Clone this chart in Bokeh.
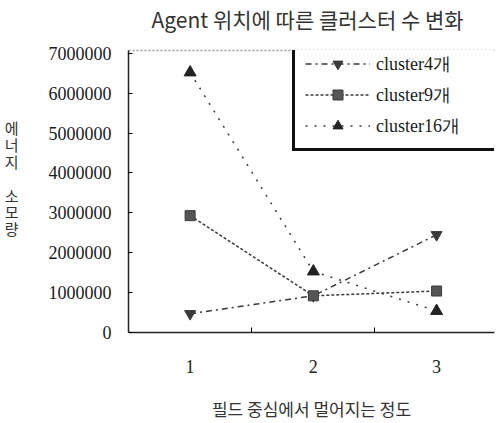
from bokeh.plotting import figure
from bokeh.models import FixedTicker, LinearAxis, Range1d, Legend, LegendItem, NumeralTickFormatter
from bokeh.embed import file_html
from bokeh.resources import INLINE

title = "Agent 위치에 따른 클러스터 수 변화"
x_label = "필드 중심에서 멀어지는 정도"
y_label_chars = ["에", "너", "지", "", "소", "모", "량"]
x_vals = [1, 2, 3]
x_tick_labels = ["1", "2", "3"]
y_ticks = [0, 1000000, 2000000, 3000000, 4000000, 5000000, 6000000, 7000000]
cluster4 = [470000, 920000, 2450000]
cluster9 = [2930000, 920000, 1040000]
cluster16 = [6520000, 1530000, 540000]
names = ["cluster4개", "cluster9개", "cluster16개"]

CJK = "Noto Sans CJK KR"
SERIF = "Liberation Serif"
DARK = "#3a3a3a"

W, H = 496, 423
X0, X1 = 0.5, 3.47
Y0, Y1 = 0, 7070000
FRAME_TOP, FRAME_BOTTOM = 50, 339
TITLE_X = 1.953125  # horizontal anchor of the title, in x-axis units

p = figure(width=W, height=H, output_backend="svg", toolbar_location=None,
           x_range=Range1d(X0, X1), y_range=Range1d(Y0, Y1),
           min_border_left=128, min_border_right=2, min_border_top=FRAME_TOP,
           min_border_bottom=H - FRAME_BOTTOM)
p.outline_line_color = None
p.grid.grid_line_color = None
p.background_fill_color = "white"
p.border_fill_color = "white"

p.xaxis.ticker = FixedTicker(ticks=x_vals, minor_ticks=[1.5, 2.5])
p.xaxis.major_label_overrides = {v: s for v, s in zip(x_vals, x_tick_labels)}
p.xaxis.major_tick_in = 0
p.xaxis.major_tick_out = 0
p.xaxis.minor_tick_in = 5
p.xaxis.minor_tick_out = 0
p.xaxis.major_label_standoff = 27
p.xaxis.major_label_text_font = SERIF
p.xaxis.major_label_text_font_size = "18px"
p.xaxis.major_label_text_color = "#222222"
p.xaxis.axis_label = x_label
p.xaxis.axis_label_text_font = CJK
p.xaxis.axis_label_text_font_size = "17px"
p.xaxis.axis_label_text_font_style = "normal"
p.xaxis.axis_label_text_color = "#333333"
p.xaxis.axis_label_standoff = 20
p.xaxis.axis_line_width = 1.5
p.xaxis.axis_line_color = "#222222"

yax = p.yaxis[0]
yax.ticker = FixedTicker(ticks=y_ticks, minor_ticks=[])
yax.formatter = NumeralTickFormatter(format="0")
yax.major_tick_in = 4
yax.major_tick_out = 0
yax.minor_tick_line_color = None
yax.major_label_standoff = 17
yax.major_label_text_font = SERIF
yax.major_label_text_font_size = "18px"
yax.major_label_text_color = "#1a1a1a"
yax.axis_line_width = 1.5
yax.axis_line_color = "#222222"

# stacked (upright) y-axis title, drawn as the labels of an outer, line-less axis
px_per_val = (FRAME_BOTTOM - FRAME_TOP) / (Y1 - Y0)
step = 17.3
char_ticks, char_map = [], {}
for i, ch in enumerate(y_label_chars):
    if not ch:
        continue
    ypx = 129 + i * step
    v = int(round((FRAME_BOTTOM - ypx) / px_per_val))
    char_ticks.append(v)
    char_map[v] = ch
lab_axis = LinearAxis(ticker=FixedTicker(ticks=char_ticks, minor_ticks=[]),
                      major_label_overrides=char_map,
                      axis_line_color=None, major_tick_line_color=None, minor_tick_line_color=None,
                      major_label_standoff=21, major_label_text_font=CJK,
                      major_label_text_font_size="15px", major_label_text_color="#333333")
p.add_layout(lab_axis, "left")

# dashed top border that also carries the chart title as its single label
top = LinearAxis(ticker=FixedTicker(ticks=[TITLE_X], minor_ticks=[]),
                 major_label_overrides={TITLE_X: title},
                 major_tick_line_color=None, minor_tick_line_color=None,
                 major_label_standoff=11, major_label_text_font=CJK,
                 major_label_text_font_size="21px", major_label_text_color="#333333",
                 axis_line_color="#999999", axis_line_dash="2 2", axis_line_width=1.5)
p.add_layout(top, "above")

r4 = p.line(x_vals, cluster4, line_color=DARK, line_width=1.5, line_dash="6 4 2 4")
m4 = p.scatter(x_vals, cluster4, marker="inverted_triangle", size=11, fill_color=DARK, line_color=DARK)
r9 = p.line(x_vals, cluster9, line_color=DARK, line_width=1.5, line_dash="3 2")
m9 = p.scatter(x_vals, cluster9, marker="square", size=10, fill_color="#555555", line_color=DARK)
r16 = p.line(x_vals, cluster16, line_color=DARK, line_width=1.5, line_dash="2 7")
m16 = p.scatter(x_vals, cluster16, marker="triangle", size=12, fill_color="#222222", line_color="#222222")

legend = Legend(items=[LegendItem(label=names[0], renderers=[r4, m4]),
                       LegendItem(label=names[1], renderers=[r9, m9]),
                       LegendItem(label=names[2], renderers=[r16, m16])],
                location=(164, 181))
legend.border_line_color = "#111111"
legend.border_line_alpha = 1.0
legend.border_line_width = 3
legend.label_text_font = SERIF
legend.label_text_font_size = "18px"
legend.label_text_color = "#1a1a1a"
legend.glyph_width = 65
legend.glyph_height = 25
legend.label_height = 25
legend.label_width = 108
legend.label_standoff = 6
legend.spacing = 6
legend.padding = 10
legend.margin = 0
legend.background_fill_color = "white"
p.add_layout(legend, "center")

open("out.html", "w").write(file_html(p, INLINE))
